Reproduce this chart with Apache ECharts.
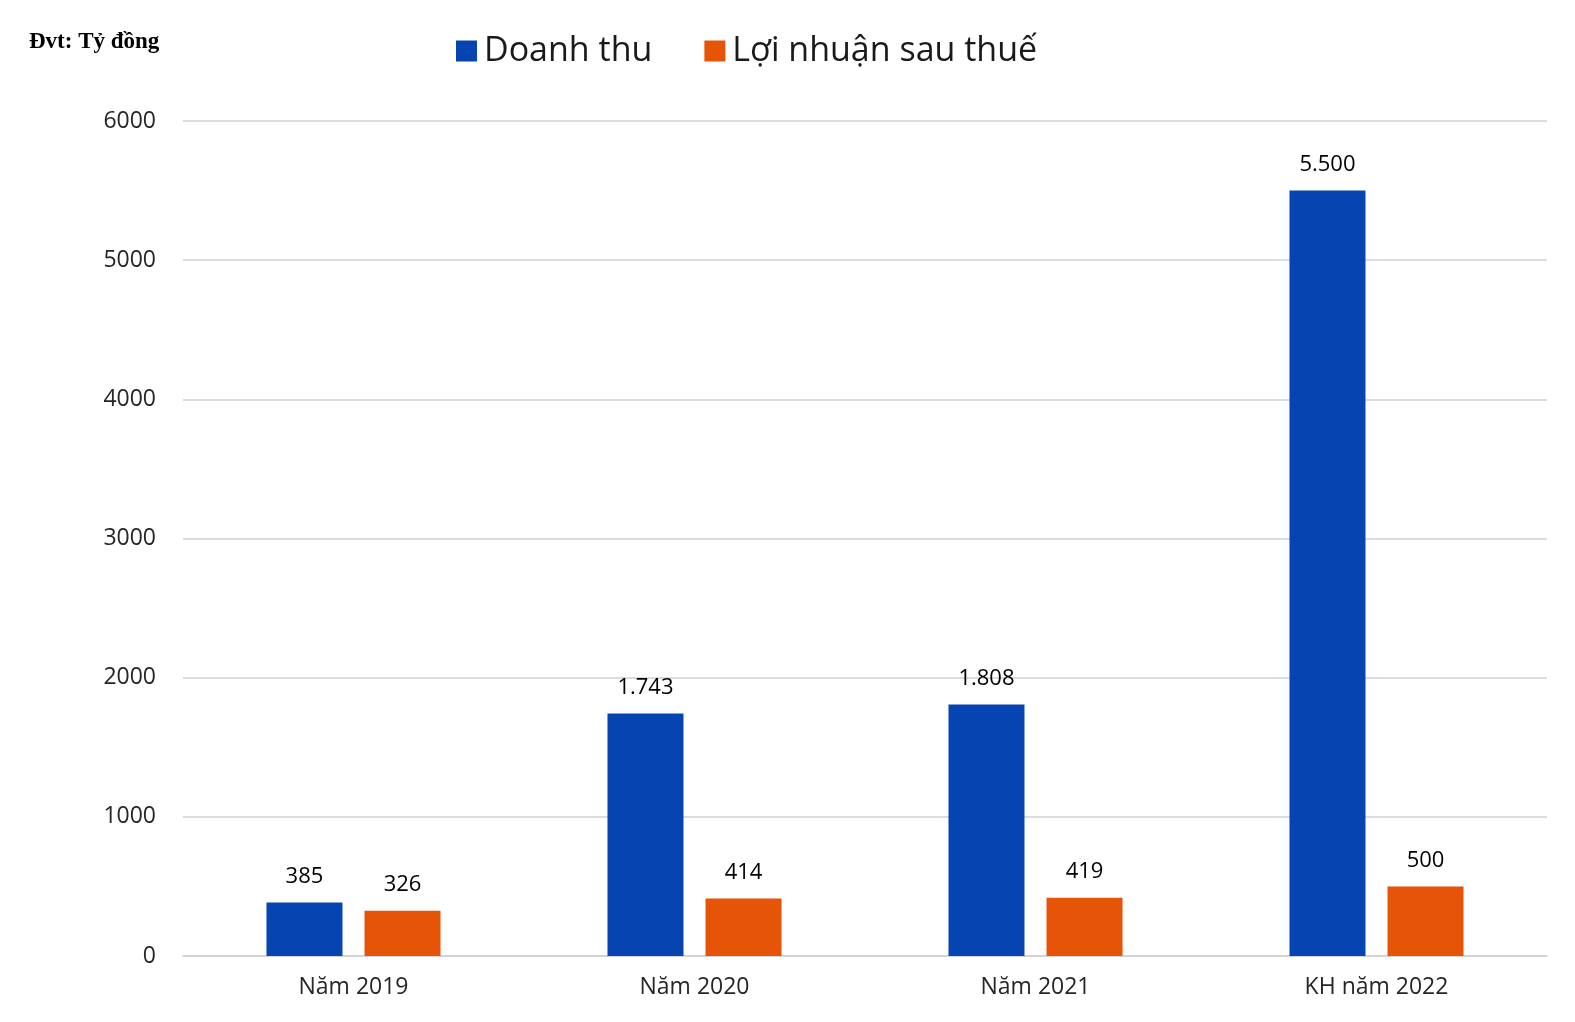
<!DOCTYPE html>
<html><head><meta charset="utf-8">
<script src="https://cdn.jsdelivr.net/npm/echarts@6/dist/echarts.min.js"></script>
<style>html,body{margin:0;padding:0;background:#fff}#c{width:1575px;height:1022px}</style>
</head><body><div id="c"></div>
<script>
const categories = ['Năm 2019', 'Năm 2020', 'Năm 2021', 'KH năm 2022'];
const revenue = [385, 1743, 1808, 5500];
const profit = [326, 414, 419, 500];
const yTicks = { min: 0, max: 6000, interval: 1000 };

const fmt = v => String(v).replace(/\B(?=(\d{3})+(?!\d))/g, '.');
const FONT = '"Open Sans", "Noto Sans", sans-serif';
const chart = echarts.init(document.getElementById('c'));
chart.setOption({
  backgroundColor: '#fff',
  animation: false,
  title: { text: 'Đvt: Tỷ đồng', left: 24, top: 26,
    textStyle: { fontFamily: '"Liberation Serif", serif', fontWeight: 'bold', fontSize: 23, color: '#000' } },
  legend: { left: 451, top: 29, itemWidth: 21, itemHeight: 21, itemGap: 52, icon: 'rect',
    textStyle: { fontFamily: FONT, fontSize: 34, color: '#1a1a1a', padding: [0,0,0,2] } },
  grid: { left: 183, right: 28, top: 121, bottom: 66 },
  xAxis: { type: 'category', data: categories,
    axisLine: { lineStyle: { color: '#d0d0d0', width: 1.5 } }, axisTick: { show: false },
    axisLabel: { fontFamily: FONT, fontSize: 23, color: '#262626', margin: 20 } },
  yAxis: { type: 'value', min: yTicks.min, max: yTicks.max, interval: yTicks.interval,
    splitLine: { lineStyle: { color: '#d0d0d0', width: 1.5 } },
    axisLabel: { fontFamily: FONT, fontSize: 23, color: '#262626', margin: 27, formatter: v => String(v) } },
  series: [
    { name: 'Doanh thu', type: 'bar', data: revenue, barWidth: 76, barGap: '29%',
      itemStyle: { color: '#0644B2' },
      label: { show: true, position: 'top', distance: 15, fontFamily: FONT, fontSize: 22, color: '#000', formatter: p => fmt(p.value) } },
    { name: 'Lợi nhuận sau thuế', type: 'bar', data: profit, barWidth: 76,
      itemStyle: { color: '#E65407' },
      label: { show: true, position: 'top', distance: 15, fontFamily: FONT, fontSize: 22, color: '#000', formatter: p => fmt(p.value) } }
  ]
});
</script></body></html>
